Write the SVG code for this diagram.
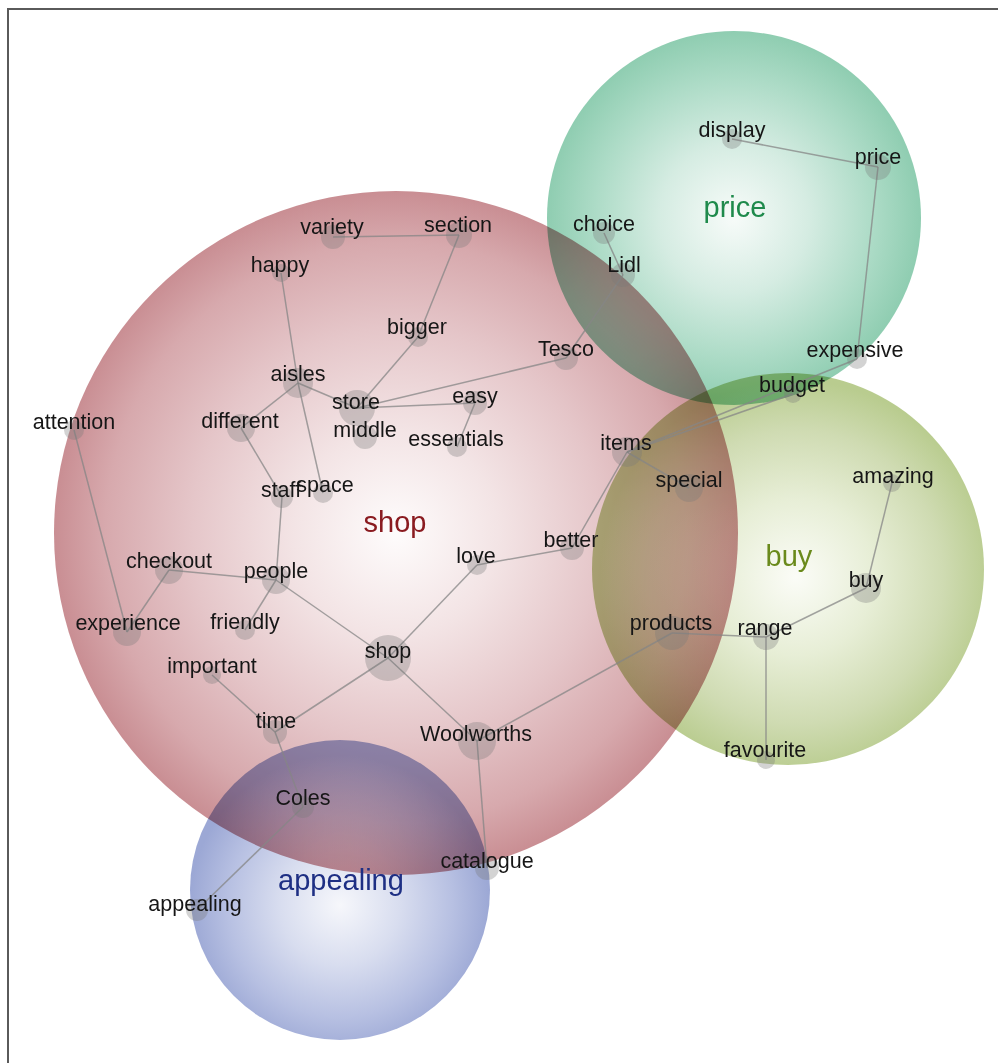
<svg xmlns="http://www.w3.org/2000/svg" width="998" height="1063" viewBox="0 0 998 1063">
<defs>
<radialGradient id="gShop" cx="0.5" cy="0.5" r="0.5">
<stop offset="0" stop-color="#fefcfc"/>
<stop offset="0.3" stop-color="#f3e4e5"/>
<stop offset="0.6" stop-color="#e5c6c9"/>
<stop offset="0.85" stop-color="#d7a9ad"/>
<stop offset="1" stop-color="#c98e93"/>
</radialGradient>
<radialGradient id="gPrice" cx="0.5" cy="0.5" r="0.5">
<stop offset="0" stop-color="#f7fbf9"/>
<stop offset="0.4" stop-color="#d5ece2"/>
<stop offset="0.75" stop-color="#acdbc6"/>
<stop offset="1" stop-color="#8fcdb1"/>
</radialGradient>
<radialGradient id="gBuy" cx="0.52" cy="0.52" r="0.5">
<stop offset="0" stop-color="#fbfcf7"/>
<stop offset="0.4" stop-color="#e7eed6"/>
<stop offset="0.75" stop-color="#cfdbb2"/>
<stop offset="1" stop-color="#b9cc8f"/>
</radialGradient>
<radialGradient id="gApp" cx="0.5" cy="0.55" r="0.5">
<stop offset="0" stop-color="#f6f7fb"/>
<stop offset="0.4" stop-color="#d8ddef"/>
<stop offset="0.75" stop-color="#b7c0e2"/>
<stop offset="1" stop-color="#9ca8d5"/>
</radialGradient>
<style>
.cl{mix-blend-mode:multiply}
.dot{fill:#7a7a7a;fill-opacity:0.33}
.lbl{font-family:"Liberation Sans",Arial,sans-serif;font-size:21.5px;fill:#161616;text-anchor:middle}
.cat{font-family:"Liberation Sans",Arial,sans-serif;font-size:29px;text-anchor:middle}
#edges line{stroke:#858585;stroke-width:1.5;stroke-opacity:0.75}
</style>
</defs>
<rect x="0" y="0" width="998" height="1063" fill="#ffffff"/>
<path d="M8,1063 V9 H998" fill="none" stroke="#5a5a5a" stroke-width="2"/>

<g id="clusters">
<g id="cluster-shop"><circle class="cl" cx="396" cy="533" r="342" fill="url(#gShop)"/></g>
<g id="cluster-price"><circle class="cl" cx="734" cy="218" r="187" fill="url(#gPrice)"/></g>
<g id="cluster-buy"><circle class="cl" cx="788" cy="569" r="196" fill="url(#gBuy)"/></g>
<g id="cluster-appealing"><circle class="cl" cx="340" cy="890" r="150" fill="url(#gApp)"/></g>
</g>

<g id="edges">
<line x1="333" y1="237" x2="459" y2="235"/>
<line x1="459" y1="235" x2="418" y2="337"/>
<line x1="418" y1="337" x2="357" y2="408"/>
<line x1="281" y1="273" x2="298" y2="383"/>
<line x1="298" y1="383" x2="357" y2="408"/>
<line x1="298" y1="383" x2="241" y2="428"/>
<line x1="298" y1="383" x2="323" y2="493"/>
<line x1="357" y1="408" x2="475" y2="403"/>
<line x1="357" y1="408" x2="566" y2="358"/>
<line x1="475" y1="403" x2="457" y2="447"/>
<line x1="566" y1="358" x2="623" y2="275"/>
<line x1="623" y1="275" x2="604" y2="233"/>
<line x1="732" y1="139" x2="878" y2="167"/>
<line x1="878" y1="167" x2="857" y2="359"/>
<line x1="857" y1="359" x2="627" y2="452"/>
<line x1="793" y1="394" x2="627" y2="452"/>
<line x1="627" y1="452" x2="689" y2="488"/>
<line x1="627" y1="452" x2="572" y2="548"/>
<line x1="572" y1="548" x2="477" y2="565"/>
<line x1="477" y1="565" x2="388" y2="658"/>
<line x1="276" y1="580" x2="388" y2="658"/>
<line x1="241" y1="428" x2="282" y2="497"/>
<line x1="282" y1="497" x2="276" y2="580"/>
<line x1="169" y1="570" x2="276" y2="580"/>
<line x1="169" y1="570" x2="127" y2="632"/>
<line x1="74" y1="430" x2="127" y2="632"/>
<line x1="276" y1="580" x2="245" y2="630"/>
<line x1="388" y1="658" x2="275" y2="732"/>
<line x1="388" y1="658" x2="477" y2="741"/>
<line x1="212" y1="675" x2="275" y2="732"/>
<line x1="275" y1="732" x2="303" y2="807"/>
<line x1="303" y1="807" x2="197" y2="910"/>
<line x1="477" y1="741" x2="487" y2="868"/>
<line x1="477" y1="741" x2="672" y2="633"/>
<line x1="672" y1="633" x2="766" y2="637"/>
<line x1="766" y1="637" x2="866" y2="588"/>
<line x1="866" y1="588" x2="892" y2="483"/>
<line x1="766" y1="637" x2="766" y2="760"/>
</g>

<g id="nodes">
<g id="n-variety"><circle class="dot" cx="333" cy="237" r="12"/><text class="lbl" x="332" y="234">variety</text></g>
<g id="n-section"><circle class="dot" cx="459" cy="235" r="13"/><text class="lbl" x="458" y="232">section</text></g>
<g id="n-happy"><circle class="dot" cx="281" cy="273" r="9"/><text class="lbl" x="280" y="272">happy</text></g>
<g id="n-bigger"><circle class="dot" cx="418" cy="337" r="10"/><text class="lbl" x="417" y="334">bigger</text></g>
<g id="n-aisles"><circle class="dot" cx="298" cy="383" r="15"/><text class="lbl" x="298" y="381">aisles</text></g>
<g id="n-store"><circle class="dot" cx="357" cy="408" r="18"/><text class="lbl" x="356" y="409">store</text></g>
<g id="n-easy"><circle class="dot" cx="475" cy="403" r="12"/><text class="lbl" x="475" y="403">easy</text></g>
<g id="n-middle"><circle class="dot" cx="365" cy="437" r="12"/><text class="lbl" x="365" y="437">middle</text></g>
<g id="n-essentials"><circle class="dot" cx="457" cy="447" r="10"/><text class="lbl" x="456" y="446">essentials</text></g>
<g id="n-attention"><circle class="dot" cx="74" cy="430" r="10"/><text class="lbl" x="74" y="429">attention</text></g>
<g id="n-different"><circle class="dot" cx="241" cy="428" r="14"/><text class="lbl" x="240" y="428">different</text></g>
<g id="n-staff"><circle class="dot" cx="282" cy="497" r="11"/><text class="lbl" x="281" y="497">staff</text></g>
<g id="n-space"><circle class="dot" cx="323" cy="493" r="10"/><text class="lbl" x="325" y="492">space</text></g>
<g id="n-checkout"><circle class="dot" cx="169" cy="570" r="14"/><text class="lbl" x="169" y="568">checkout</text></g>
<g id="n-people"><circle class="dot" cx="276" cy="580" r="14"/><text class="lbl" x="276" y="578">people</text></g>
<g id="n-love"><circle class="dot" cx="477" cy="565" r="10"/><text class="lbl" x="476" y="563">love</text></g>
<g id="n-better"><circle class="dot" cx="572" cy="548" r="12"/><text class="lbl" x="571" y="547">better</text></g>
<g id="n-experience"><circle class="dot" cx="127" cy="632" r="14"/><text class="lbl" x="128" y="630">experience</text></g>
<g id="n-friendly"><circle class="dot" cx="245" cy="630" r="10"/><text class="lbl" x="245" y="629">friendly</text></g>
<g id="n-shop"><circle class="dot" cx="388" cy="658" r="23"/><text class="lbl" x="388" y="658">shop</text></g>
<g id="n-important"><circle class="dot" cx="212" cy="675" r="9"/><text class="lbl" x="212" y="673">important</text></g>
<g id="n-time"><circle class="dot" cx="275" cy="732" r="12"/><text class="lbl" x="276" y="728">time</text></g>
<g id="n-woolworths"><circle class="dot" cx="477" cy="741" r="19"/><text class="lbl" x="476" y="741">Woolworths</text></g>
<g id="n-coles"><circle class="dot" cx="303" cy="807" r="11"/><text class="lbl" x="303" y="805">Coles</text></g>
<g id="n-catalogue"><circle class="dot" cx="487" cy="868" r="12"/><text class="lbl" x="487" y="868">catalogue</text></g>
<g id="n-appealing"><circle class="dot" cx="197" cy="910" r="11"/><text class="lbl" x="195" y="911">appealing</text></g>
<g id="n-display"><circle class="dot" cx="732" cy="139" r="10"/><text class="lbl" x="732" y="137">display</text></g>
<g id="n-price"><circle class="dot" cx="878" cy="167" r="13"/><text class="lbl" x="878" y="164">price</text></g>
<g id="n-choice"><circle class="dot" cx="604" cy="233" r="11"/><text class="lbl" x="604" y="231">choice</text></g>
<g id="n-lidl"><circle class="dot" cx="623" cy="275" r="12"/><text class="lbl" x="624" y="272">Lidl</text></g>
<g id="n-tesco"><circle class="dot" cx="566" cy="358" r="12"/><text class="lbl" x="566" y="356">Tesco</text></g>
<g id="n-expensive"><circle class="dot" cx="857" cy="359" r="10"/><text class="lbl" x="855" y="357">expensive</text></g>
<g id="n-budget"><circle class="dot" cx="793" cy="394" r="9"/><text class="lbl" x="792" y="392">budget</text></g>
<g id="n-items"><circle class="dot" cx="627" cy="452" r="15"/><text class="lbl" x="626" y="450">items</text></g>
<g id="n-special"><circle class="dot" cx="689" cy="488" r="14"/><text class="lbl" x="689" y="487">special</text></g>
<g id="n-amazing"><circle class="dot" cx="892" cy="483" r="9"/><text class="lbl" x="893" y="483">amazing</text></g>
<g id="n-buy"><circle class="dot" cx="866" cy="588" r="15"/><text class="lbl" x="866" y="587">buy</text></g>
<g id="n-products"><circle class="dot" cx="672" cy="633" r="17"/><text class="lbl" x="671" y="630">products</text></g>
<g id="n-range"><circle class="dot" cx="766" cy="637" r="13"/><text class="lbl" x="765" y="635">range</text></g>
<g id="n-favourite"><circle class="dot" cx="766" cy="760" r="9"/><text class="lbl" x="765" y="757">favourite</text></g>
</g>

<g id="cluster-labels">
<text class="cat" x="395" y="532" fill="#8a1b20">shop</text>
<text class="cat" x="735" y="217" fill="#1f8a4c">price</text>
<text class="cat" x="789" y="566" fill="#6a8a1c">buy</text>
<text class="cat" x="341" y="890" fill="#1e2f84">appealing</text>
</g>
</svg>
